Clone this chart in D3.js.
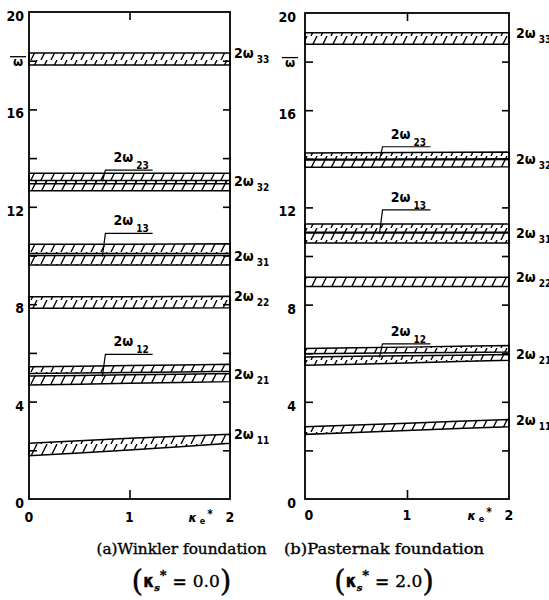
<!DOCTYPE html>
<html>
<head>
<meta charset="utf-8">
<script src="https://cdn.jsdelivr.net/npm/d3@7"></script>
<style>
  body { margin: 0; background: #fff; }
  svg { display: block; }
</style>
</head>
<body>
<svg width="549" height="600"></svg>
<script>
'use strict'

// kappa_e* sample points along each band
const kappaE = [0, 0.5, 1, 1.5, 2];
const yTickLabels = [0, 4, 8, 12, 16, 20];
const yTickMarks = [2, 4, 6, 8, 10, 12, 14, 16, 18];
const xTickLabels = [0, 1, 2];

// (a) Winkler foundation, lower / upper edge of each band
const winkler_w33 = { lo: [17.82, 17.82, 17.82, 17.82, 17.82], hi: [18.32, 18.32, 18.32, 18.32, 18.32] };
const winkler_w23 = { lo: [12.95, 12.95, 12.95, 12.95, 12.95], hi: [13.38, 13.38, 13.38, 13.38, 13.38] };
const winkler_w32 = { lo: [12.66, 12.66, 12.66, 12.66, 12.66], hi: [13.08, 13.08, 13.08, 13.08, 13.08] };
const winkler_w13 = { lo: [10.08, 10.08, 10.08, 10.08, 10.08], hi: [10.46, 10.46, 10.46, 10.47, 10.48] };
const winkler_w31 = { lo: [9.61, 9.61, 9.61, 9.61, 9.61], hi: [10.0, 10.0, 10.0, 10.0, 10.0] };
const winkler_w22 = { lo: [7.83, 7.83, 7.83, 7.84, 7.85], hi: [8.31, 8.31, 8.31, 8.32, 8.33] };
const winkler_w12 = { lo: [5.15, 5.17, 5.2, 5.22, 5.25], hi: [5.43, 5.45, 5.48, 5.5, 5.53] };
const winkler_w21 = { lo: [4.68, 4.71, 4.75, 4.78, 4.82], hi: [5.05, 5.07, 5.1, 5.12, 5.15] };
const winkler_w11 = { lo: [1.78, 1.89, 2.01, 2.15, 2.29], hi: [2.29, 2.39, 2.49, 2.58, 2.66] };

// (b) Pasternak foundation
const pasternak_w33 = { lo: [18.71, 18.71, 18.71, 18.71, 18.71], hi: [19.19, 19.19, 19.19, 19.19, 19.19] };
const pasternak_w23 = { lo: [13.95, 13.95, 13.96, 13.96, 13.97], hi: [14.24, 14.25, 14.26, 14.27, 14.28] };
const pasternak_w32 = { lo: [13.65, 13.65, 13.66, 13.66, 13.67], hi: [13.98, 13.98, 13.99, 13.99, 14.0] };
const pasternak_w13 = { lo: [10.98, 10.98, 10.98, 10.98, 10.98], hi: [11.32, 11.32, 11.32, 11.32, 11.32] };
const pasternak_w31 = { lo: [10.53, 10.53, 10.53, 10.53, 10.53], hi: [10.95, 10.95, 10.95, 10.95, 10.95] };
const pasternak_w22 = { lo: [8.75, 8.75, 8.75, 8.75, 8.75], hi: [9.13, 9.13, 9.13, 9.13, 9.13] };
const pasternak_w12 = { lo: [5.98, 6.0, 6.02, 6.03, 6.05], hi: [6.19, 6.22, 6.25, 6.29, 6.32] };
const pasternak_w21 = { lo: [5.5, 5.55, 5.6, 5.66, 5.71], hi: [5.84, 5.87, 5.9, 5.92, 5.95] };
const pasternak_w11 = { lo: [2.66, 2.74, 2.82, 2.9, 2.97], hi: [2.97, 3.05, 3.12, 3.2, 3.27] };

const rightLabelModes = ['33', '32', '31', '22', '21', '11'];
const leaderModes = [['23', '32'], ['13', '31'], ['12', '21']];

const svg = d3.select('svg');
const tickFont = '"DejaVu Sans Condensed", "DejaVu Sans", sans-serif';

svg.append('defs').append('pattern')
  .attr('id', 'hatch')
  .attr('patternUnits', 'userSpaceOnUse')
  .attr('width', 10).attr('height', 12)
  .append('path')
  .attr('d', 'M1,12L7,0')
  .attr('stroke', '#000')
  .attr('stroke-width', 1.4);

function drawPanel(p) {
  const x = d3.scaleLinear().domain([0, 2]).range(p.xRange);
  const y = d3.scaleLinear().domain([0, 20]).range(p.yRange);
  const g = svg.append('g');

  // bands
  const area = d3.area()
    .x((d, i) => x(kappaE[i]))
    .y0(d => y(d[0]))
    .y1(d => y(d[1]));

  Object.keys(p.bands).forEach(k => {
    const b = p.bands[k];
    g.append('path')
      .datum(d3.zip(b.lo, b.hi))
      .attr('d', area)
      .attr('fill', 'url(#hatch)')
      .attr('stroke', '#000')
      .attr('stroke-width', 1.5);
  });

  // frame
  g.append('rect')
    .attr('x', x(0)).attr('y', y(20))
    .attr('width', x(2) - x(0)).attr('height', y(0) - y(20))
    .attr('fill', 'none').attr('stroke', '#000').attr('stroke-width', 1.8);

  // inward ticks
  g.append('g').attr('transform', `translate(${x(0)},0)`)
    .call(d3.axisLeft(y).tickValues(yTickMarks).tickSize(-8).tickFormat(''))
    .call(a => a.select('.domain').remove());
  g.append('g').attr('transform', `translate(${x(2)},0)`)
    .call(d3.axisRight(y).tickValues(yTickMarks).tickSize(-7).tickFormat(''))
    .call(a => a.select('.domain').remove());
  g.append('g').attr('transform', `translate(0,${y(0)})`)
    .call(d3.axisBottom(x).tickValues([1]).tickSize(-9).tickFormat(''))
    .call(a => a.select('.domain').remove());
  g.append('g').attr('transform', `translate(0,${y(20)})`)
    .call(d3.axisTop(x).tickValues([1]).tickSize(-8).tickFormat(''))
    .call(a => a.select('.domain').remove());
  g.selectAll('.tick line').attr('stroke-width', 1.6);

  // y tick labels
  g.selectAll('.ylab').data(yTickLabels).join('text')
    .attr('x', x(0) - p.yLabGap)
    .attr('y', d => y(d) + 9)
    .attr('text-anchor', 'end')
    .attr('font-family', tickFont).attr('font-weight', 'bold').attr('font-size', 14)
    .text(d => d);

  // omega-bar label at 18
  g.append('text')
    .attr('x', x(0) - p.yLabGap - 6).attr('y', y(18) + 5)
    .attr('text-anchor', 'middle')
    .attr('font-family', tickFont).attr('font-weight', 'bold').attr('font-size', 13)
    .text('ω');
  g.append('line')
    .attr('x1', x(0) - p.yLabGap - 14).attr('x2', x(0) - p.yLabGap + 2)
    .attr('y1', y(18) - 4).attr('y2', y(18) - 4)
    .attr('stroke', '#000').attr('stroke-width', 1.3);

  // x tick labels
  g.selectAll('.xlab').data(xTickLabels).join('text')
    .attr('x', d => x(d) + (d === 0 ? p.x0Shift : 0))
    .attr('y', y(0) + p.xLabDy)
    .attr('text-anchor', 'middle')
    .attr('font-family', tickFont).attr('font-weight', 'bold').attr('font-size', 14)
    .text(d => d);

  const kl = g.append('text')
    .attr('x', x(2) - 17).attr('y', y(0) + p.xLabDy)
    .attr('text-anchor', 'end')
    .attr('font-family', tickFont).attr('font-weight', 'bold');
  kl.append('tspan').attr('font-size', 13).attr('font-style', 'italic').text('κ');
  kl.append('tspan').attr('font-size', 9).attr('dx', 3).attr('dy', 2).text('e');
  kl.append('tspan').attr('font-size', 12).attr('dx', 2).attr('dy', -6).text('*');

  // band labels on the right
  rightLabelModes.forEach(m => {
    const b = p.bands[m];
    const t = g.append('text')
      .attr('x', x(2) + p.labGap)
      .attr('y', y(b.hi[b.hi.length - 1]) + 5)
      .attr('font-family', tickFont).attr('font-weight', 'bold').attr('font-size', 14);
    t.append('tspan').text('2ω');
    t.append('tspan').attr('font-size', 10).attr('dx', 3).attr('dy', 5).text(m);
  });

  // leader labels
  leaderModes.forEach(([top, bottom], i) => {
    const bt = p.bands[top];
    const bb = p.bands[bottom];
    const uy = y(bt.hi[1]) - p.leaderGap[i];
    const ey = y(bb.hi[1]) + 1;
    g.append('path')
      .attr('d', `M${x(1.23)},${uy}L${x(0.76)},${uy}L${x(0.73)},${ey}`)
      .attr('fill', 'none').attr('stroke', '#000').attr('stroke-width', 1.2);
    const t = g.append('text')
      .attr('x', x(0.84)).attr('y', uy - 8)
      .attr('font-family', tickFont).attr('font-weight', 'bold').attr('font-size', 14);
    t.append('tspan').text('2ω');
    t.append('tspan').attr('font-size', 10).attr('dx', 3).attr('dy', 7).text(top);
  });

  // caption
  const cx = (p.xRange[0] + p.xRange[1]) / 2 + p.capShift;
  g.append('text')
    .attr('x', cx).attr('y', 554)
    .attr('text-anchor', 'middle')
    .attr('font-family', '"DejaVu Serif", serif').attr('font-size', 15)
    .attr('stroke', '#000').attr('stroke-width', 0.35)
    .attr('textLength', p.capLen).attr('lengthAdjust', 'spacingAndGlyphs')
    .text(p.caption);

  const c2 = g.append('text')
    .attr('x', cx).attr('y', 591)
    .attr('text-anchor', 'middle')
    .attr('stroke', '#000').attr('stroke-width', 0.35)
    .attr('font-family', '"DejaVu Serif", serif').attr('font-size', 17);
  c2.append('tspan').attr('font-size', 30).text('(');
  c2.append('tspan').attr('font-family', tickFont).attr('font-weight', 'bold').attr('dy', -4).text('κ');
  c2.append('tspan').attr('font-size', 10).attr('font-style', 'italic').attr('font-weight', 'bold').attr('dy', 4).text('s');
  c2.append('tspan').attr('font-size', 13).attr('font-weight', 'bold').attr('dy', -11).text('*');
  c2.append('tspan').attr('font-weight', 'bold').attr('dy', 7).text(' = ');
  c2.append('tspan').text(p.ks);
  c2.append('tspan').attr('font-size', 30).attr('dy', 4).text(')');
}

drawPanel({
  xRange: [29, 230], yRange: [499, 12],
  bands: { '33': winkler_w33, '23': winkler_w23, '32': winkler_w32, '13': winkler_w13, '31': winkler_w31,
           '22': winkler_w22, '12': winkler_w12, '21': winkler_w21, '11': winkler_w11 },
  yLabGap: 5, xLabDy: 23, x0Shift: 0, labGap: 4,
  leaderGap: [3, 11, 12],
  caption: '(a)Winkler foundation', capLen: 170, capShift: 52, ks: '0.0'
});

drawPanel({
  xRange: [305, 509], yRange: [499, 13],
  bands: { '33': pasternak_w33, '23': pasternak_w23, '32': pasternak_w32, '13': pasternak_w13, '31': pasternak_w31,
           '22': pasternak_w22, '12': pasternak_w12, '21': pasternak_w21, '11': pasternak_w11 },
  yLabGap: 9, xLabDy: 21, x0Shift: 4, labGap: 7,
  leaderGap: [6, 14, 4],
  caption: '(b)Pasternak foundation', capLen: 200, capShift: -23, ks: '2.0'
});
</script>
</body>
</html>
